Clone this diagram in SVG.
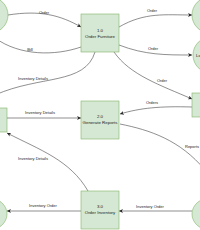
<svg xmlns="http://www.w3.org/2000/svg" width="200" height="230" viewBox="0 0 200 230">
<defs>
<style>
.ent{fill:#d5e8d4;stroke:#82b366;stroke-width:0.6}
.edge{fill:none;stroke:#444;stroke-width:0.6;marker-end:url(#arr)}
.edge2{fill:none;stroke:#444;stroke-width:0.6}
.lbl{font-family:"Liberation Sans",Arial,sans-serif;font-size:4px;fill:#222;text-anchor:middle}
.txt{font-family:"Liberation Sans",Arial,sans-serif;font-size:4.4px;fill:#222;text-anchor:middle}
</style>
<marker id="arr" viewBox="0 0 10 10" refX="10" refY="5" markerWidth="4" markerHeight="4" orient="auto" markerUnits="userSpaceOnUse">
<path d="M0,0 L10,5 L0,10 L3,5 z" fill="#222"/>
</marker>
</defs>
<rect width="200" height="230" fill="#fff"/>
<g id="connectors">
<path class="edge" d="M8,15 C40,10 60,15 81,27"/>
<path class="edge2" d="M81,47 C55,56 20,56 -5,38"/>
<path class="edge" d="M119,27 C145,12 165,15 192,15"/>
<path class="edge" d="M119,45 C145,55 165,55 192,55"/>
<path class="edge" d="M114,52 C130,75 160,85 192,99"/>
<path class="edge" d="M192,107 C160,106 140,108 120,114"/>
<path class="edge2" d="M120,124 C150,130 180,140 205,170"/>
<path class="edge2" d="M95,52 C85,85 40,75 -5,95"/>
<path class="edge" d="M7,118 L81,118"/>
<path class="edge" d="M88,191 C70,160 40,150 7,133"/>
<path class="edge" d="M192,211 L119,211"/>
<path class="edge" d="M81,211 L7,211"/>
<text class="lbl" x="44" y="14">Order</text>
<text class="lbl" x="30" y="51">Bill</text>
<text class="lbl" x="152" y="12">Order</text>
<text class="lbl" x="153" y="50">Order</text>
<text class="lbl" x="162" y="82">Order</text>
<text class="lbl" x="152" y="104">Orders</text>
<text class="lbl" x="185" y="148" style="text-anchor:start">Reports</text>
<text class="lbl" x="33" y="80">Inventory Details</text>
<text class="lbl" x="40" y="114">Inventory Details</text>
<text class="lbl" x="33" y="160">Inventory Details</text>
<text class="lbl" x="150" y="208">Inventory Order</text>
<text class="lbl" x="43" y="207">Inventory Order</text>
</g>
<g id="customer"><ellipse class="ent" cx="-10" cy="15" rx="18" ry="18"/></g>
<g id="supplier"><ellipse class="ent" cx="210" cy="15" rx="18" ry="18"/></g>
<g id="logistics"><ellipse class="ent" cx="211" cy="55" rx="18" ry="18"/><text class="txt" x="196" y="56.5" style="text-anchor:start">Lo</text></g>
<g id="store-right"><rect class="ent" x="192" y="93" width="20" height="24"/></g>
<g id="store-left"><rect class="ent" x="-12" y="108" width="19" height="24"/></g>
<g id="ent-bl"><ellipse class="ent" cx="-11" cy="214" rx="18" ry="16"/></g>
<g id="ent-br"><ellipse class="ent" cx="210" cy="214" rx="18" ry="16"/></g>
<g id="p1"><rect class="ent" x="81" y="14" width="38" height="38"/><text class="txt" x="100" y="32">1.0</text><text class="txt" x="100" y="38">Order Furniture</text></g>
<g id="p2"><rect class="ent" x="81" y="101" width="38" height="38"/><text class="txt" x="100" y="118">2.0</text><text class="txt" x="100" y="124">Generate Reports</text></g>
<g id="p3"><rect class="ent" x="81" y="191" width="38" height="38"/><text class="txt" x="100" y="208">3.0</text><text class="txt" x="100" y="214">Order Inventory</text></g>
</svg>
